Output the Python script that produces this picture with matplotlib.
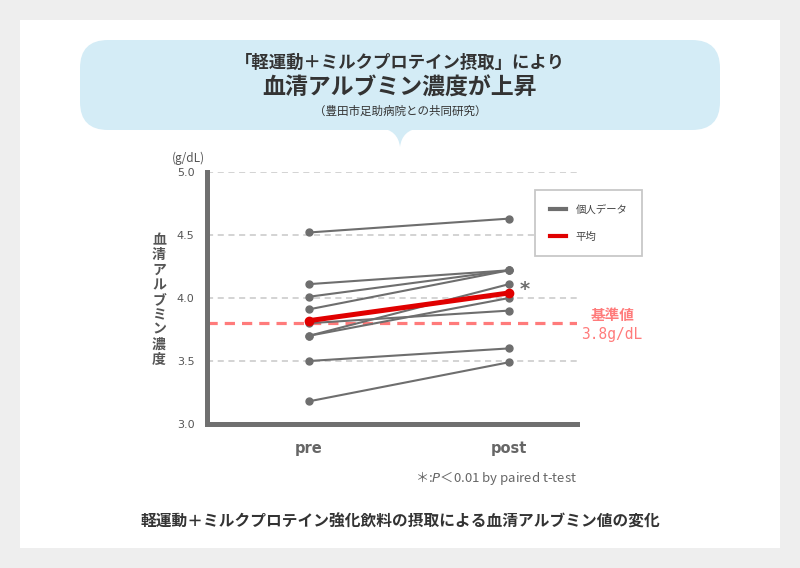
import matplotlib
matplotlib.use('Agg')
import matplotlib.pyplot as plt
from matplotlib.patches import FancyBboxPatch, PathPatch, Rectangle
from matplotlib.path import Path
from matplotlib.lines import Line2D

plt.rcParams['font.family'] = ['Noto Sans CJK JP', 'DejaVu Sans']

# data (g/dL)
conditions = ['pre', 'post']
pre_values = [4.52, 4.11, 4.01, 3.91, 3.80, 3.70, 3.70, 3.50, 3.18]
post_values = [4.63, 4.22, 4.22, 4.22, 3.90, 4.11, 4.00, 3.60, 3.49]
mean_values = [3.82, 4.04]
baseline = 3.8
y_ticks = [3.0, 3.5, 4.0, 4.5, 5.0]

GRAY = '#6e6e6e'
RED = '#e00000'
PINK = '#ff7b7b'
TEXT = '#333333'

fig = plt.figure(figsize=(8, 5.68), dpi=100, facecolor='#eeeeee')

# background layer in pixel coordinates
bg = fig.add_axes([0, 0, 1, 1], zorder=0)
bg.set_xlim(0, 800)
bg.set_ylim(568, 0)
bg.axis('off')
bg.add_patch(Rectangle((20, 20), 760, 528, color='white', lw=0))
bubble_col = '#d4ecf6'
bg.add_patch(FancyBboxPatch((80, 40), 640, 90, boxstyle='round,pad=0,rounding_size=28',
                            color=bubble_col, lw=0))
# speech-bubble tail with concave sides
tail = Path([(380, 128), (398, 130), (400, 147), (402, 130), (420, 128), (380, 128)],
            [Path.MOVETO, Path.CURVE3, Path.CURVE3, Path.CURVE3, Path.CURVE3, Path.CLOSEPOLY])
bg.add_patch(PathPatch(tail, color=bubble_col, lw=0))

bg.text(400, 63, '「軽運動＋ミルクプロテイン摂取」により', ha='center', va='center',
        fontsize=12.5, fontweight='bold', color=TEXT)
bg.text(400, 88, '血清アルブミン濃度が上昇', ha='center', va='center',
        fontsize=16.5, fontweight='bold', color=TEXT)
bg.text(400, 111, '（豊田市足助病院との共同研究）', ha='center', va='center',
        fontsize=8.3, color=TEXT)
bg.text(400, 522, '軽運動＋ミルクプロテイン強化飲料の摂取による血清アルブミン値の変化',
        ha='center', va='center', fontsize=11.3, fontweight='bold', color=TEXT)
bg.text(577, 478, r'＊:$\it{P}$＜0.01 by paired t-test', ha='right', va='center',
        fontsize=9.5, color='#666666')
bg.text(188, 158, '(g/dL)', ha='center', va='center', fontsize=8.5, color='#555555')
bg.text(159, 300, '\n'.join('血清アルブミン濃度'), ha='center', va='center',
        fontsize=10, fontweight='bold', color='#555555', linespacing=1.08)

# main chart
ax = fig.add_axes([207 / 800, 1 - 424 / 568, 370 / 800, 252 / 568], zorder=1)
ax.patch.set_alpha(0)
x = list(range(len(conditions)))

for t in y_ticks[1:]:
    ax.axhline(t, color='#c8c8c8', lw=1.1, ls=(0, (4, 3)), zorder=1)
ax.axhline(baseline, color=PINK, lw=2.3, ls=(0, (3.2, 2.2)), zorder=2)

for a, b in zip(pre_values, post_values):
    ax.plot(x, [a, b], color=GRAY, lw=1.5, marker='o', ms=5, zorder=3)
ax.plot(x, mean_values, color=RED, lw=3.6, marker='o', ms=6, zorder=4)

ax.set_xlim(-0.51, 1.34)
ax.set_ylim(3.0, 5.0)
ax.set_yticks(y_ticks)
ax.set_yticklabels(['%.1f' % t for t in y_ticks])
ax.set_xticks(x)
ax.set_xticklabels(conditions)
ax.tick_params(axis='y', length=0, pad=9, labelsize=8, labelcolor='#555555')
ax.tick_params(axis='x', length=0, pad=12, labelsize=10.5, labelcolor='#666666')
for lab in ax.get_xticklabels():
    lab.set_fontweight('bold')
    lab.set_family(['DejaVu Sans'])
for lab in ax.get_yticklabels():
    lab.set_family(['DejaVu Sans'])

for s in ['top', 'right']:
    ax.spines[s].set_visible(False)
for s in ['left', 'bottom']:
    ax.spines[s].set_color('#707070')
    ax.spines[s].set_linewidth(3.6)

ax.text(1.08, 4.07, '*', ha='center', va='center', fontsize=14, fontweight='bold',
        color=GRAY, family=['DejaVu Sans'])
ax.annotate('基準値', xy=(1.095, baseline), xycoords=('axes fraction', 'data'),
            xytext=(0, 6), textcoords='offset points', ha='center', va='center',
            fontsize=10.5, fontweight='bold', color=PINK, annotation_clip=False)
ax.annotate('3.8g/dL', xy=(1.095, baseline), xycoords=('axes fraction', 'data'),
            xytext=(0, -8), textcoords='offset points', ha='center', va='center',
            fontsize=10.5, color=PINK, family=['DejaVu Sans Mono'], annotation_clip=False)

handles = [Line2D([], [], color=GRAY, lw=3), Line2D([], [], color=RED, lw=3)]
leg = ax.legend(handles, ['個人データ', '平均'], loc='upper left',
                bbox_to_anchor=(535 / 800, 1 - 190 / 568), bbox_transform=fig.transFigure,
                borderaxespad=0, fontsize=7.5, handlelength=1.6, handletextpad=0.9,
                borderpad=1.4, labelspacing=1.6, fancybox=False, framealpha=1)
leg.get_frame().set_edgecolor('#c8c8c8')
leg.get_frame().set_linewidth(1.3)
for t in leg.get_texts():
    t.set_color('#444444')

fig.savefig('out.png', dpi=100, facecolor=fig.get_facecolor())
